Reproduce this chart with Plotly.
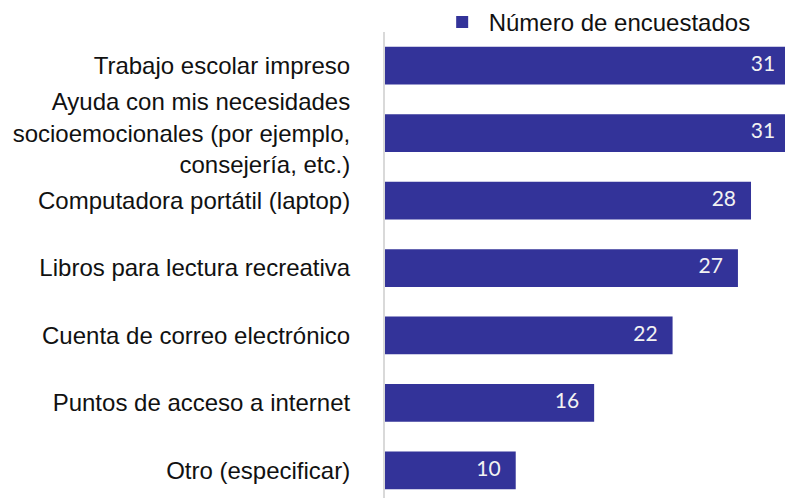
import plotly.graph_objects as go

# Survey responses: what students said they need
categories = [
    "Trabajo escolar impreso",
    "Ayuda con mis necesidades<br>socioemocionales (por ejemplo,<br>consejería, etc.)",
    "Computadora portátil (laptop)",
    "Libros para lectura recreativa",
    "Cuenta de correo electrónico",
    "Puntos de acceso a internet",
    "Otro (especificar)",
]
respondents = [31, 31, 28, 27, 22, 16, 10]
series_name = "Número de encuestados"

BAR_COLOR = "#333399"
LABEL_FONT = "Liberation Sans, Arial, sans-serif"

fig = go.Figure()

fig.add_trace(go.Bar(
    y=categories,
    x=respondents,
    orientation="h",
    name=series_name,
    marker=dict(color=BAR_COLOR, line=dict(width=0)),
    width=0.56,
    showlegend=True,
    hoverinfo="x+y",
))

# value labels sitting just inside the end of each bar
fig.add_trace(go.Scatter(
    y=categories,
    x=respondents,
    mode="markers+text",
    text=[str(v) for v in respondents],
    textposition="middle left",
    textfont=dict(family="Lato, Noto Sans, sans-serif", size=21, color="#f2f2f2"),
    marker=dict(size=22.4, opacity=0),
    cliponaxis=True,
    showlegend=False,
    hoverinfo="skip",
))

fig.update_layout(
    width=785,
    height=498,
    margin=dict(l=385, r=0, t=32, b=0, pad=0, autoexpand=False),
    paper_bgcolor="white",
    plot_bgcolor="white",
    font=dict(family=LABEL_FONT, size=24, color="#111111"),
    bargap=0.44,
    legend=dict(
        orientation="h",
        xref="container",
        yref="container",
        x=0.555,
        xanchor="left",
        y=1.0,
        yanchor="top",
        itemwidth=43,
        font=dict(family=LABEL_FONT, size=24, color="#111111"),
        bgcolor="rgba(0,0,0,0)",
        borderwidth=0,
    ),
    xaxis=dict(
        range=[0, 30.6],
        showgrid=False,
        zeroline=False,
        showticklabels=False,
        showline=False,
        fixedrange=True,
    ),
    yaxis=dict(
        type="category",
        range=[6.41, -0.5],
        showgrid=False,
        zeroline=False,
        showline=True,
        linecolor="#d9d9d9",
        linewidth=2,
        ticks="",
        ticklabelstandoff=28,
        tickfont=dict(family=LABEL_FONT, size=24, color="#111111"),
        fixedrange=True,
    ),
)

fig.write_html("out.html")
